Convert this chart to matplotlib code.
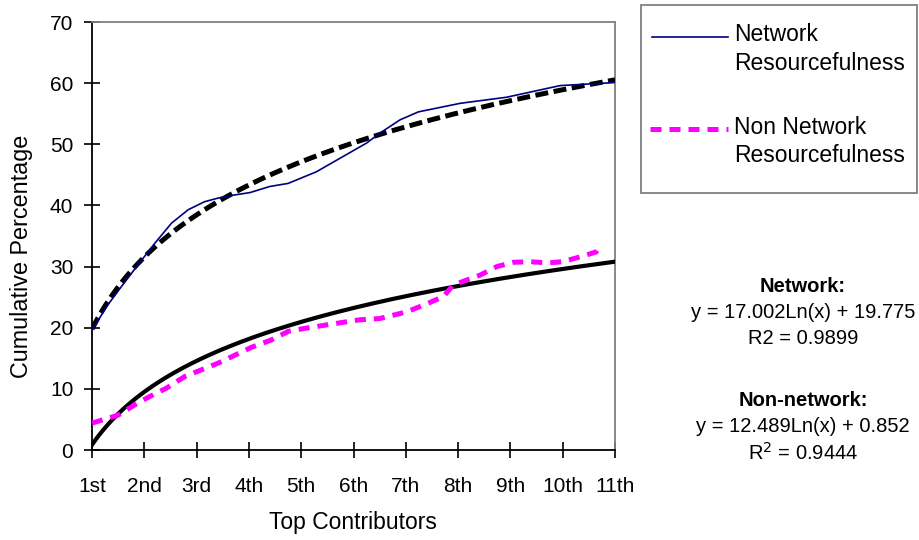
import numpy as np
import matplotlib
matplotlib.use("Agg")
import matplotlib.pyplot as plt
from matplotlib.lines import Line2D
from matplotlib.patches import Rectangle

plt.rcParams['font.family'] = ['Liberation Sans', 'DejaVu Sans']

# data (x = contributor rank, y = cumulative %)
net_x = [1.0, 1.3, 1.56, 1.88, 2.2, 2.52, 2.84, 3.15, 3.41, 3.64, 4.02, 4.4,
         4.75, 5.29, 5.8, 6.25, 6.5, 6.89, 7.24, 8.04, 8.93, 9.95, 11.0]
net_y = [19.6, 23.7, 26.7, 30.3, 33.8, 37.1, 39.3, 40.6, 41.2, 41.6, 42.1, 43.1,
         43.6, 45.5, 48.0, 50.2, 51.8, 54.0, 55.3, 56.7, 57.7, 59.6, 60.1]

non_x = [1.0, 1.5, 1.82, 2.07, 2.42, 2.77, 3.03, 3.41, 3.73, 4.05, 4.43, 4.75,
         5.07, 5.74, 6.12, 6.5, 7.02, 7.4, 7.72, 7.91, 8.42, 8.74, 9.06, 9.37,
         9.72, 10.0, 10.38, 10.64, 10.74]
non_y = [4.4, 5.7, 7.4, 8.6, 10.1, 12.0, 12.9, 14.2, 15.5, 16.8, 18.0, 19.4,
         19.9, 20.8, 21.3, 21.5, 22.6, 23.9, 25.1, 27.0, 28.6, 30.0, 30.7, 30.8,
         30.6, 30.8, 31.7, 32.4, 33.7]

# log trendlines as printed on the chart
net_fit = (17.002, 19.775)
non_fit = (12.489, 0.852)

tick_labels = ['1st', '2nd', '3rd', '4th', '5th', '6th', '7th', '8th', '9th', '10th', '11th']

W, H = 919, 540
fig = plt.figure(figsize=(W / 100, H / 100), dpi=100)
ax = fig.add_axes([92 / W, 1 - 450 / H, (615 - 92) / W, (450 - 22) / H])

tx = np.linspace(1, 11, 300)
ax.plot(tx, net_fit[0] * np.log(tx) + net_fit[1], color='black', lw=3.6,
        dashes=(2.6, 1.1), solid_capstyle='butt', zorder=3)
ax.plot(tx, non_fit[0] * np.log(tx) + non_fit[1], color='black', lw=3.0, zorder=3)
ax.plot(net_x, net_y, color='#000080', lw=1.2, zorder=4)
ax.plot(non_x, non_y, color='#ff00ff', lw=3.6, dashes=(2.2, 1.6), zorder=4)

ax.set_xlim(1, 11)
ax.set_ylim(0, 70)
ax.set_xticks(range(1, 12))
ax.set_xticklabels(tick_labels)
ax.set_yticks(range(0, 71, 10))
ax.tick_params(direction='inout', length=11, width=1.2, labelsize=15, colors='black')
ax.tick_params(axis='x', pad=14)
ax.tick_params(axis='y', pad=8)
for s in ['left', 'bottom']:
    ax.spines[s].set_color('black')
    ax.spines[s].set_linewidth(1.3)
for s in ['top', 'right']:
    ax.spines[s].set_color('#808080')
    ax.spines[s].set_linewidth(1.3)

fig.text(22 / W, 1 - 256 / H, 'Cumulative Percentage', rotation=90,
         ha='center', va='center', fontsize=16.8)
fig.text(353 / W, 1 - 523 / H, 'Top Contributors', ha='center', va='center', fontsize=16.5)

# overlay in pixel coordinates for legend and equations
ov = fig.add_axes([0, 0, 1, 1], facecolor='none')
ov.set_xlim(0, W)
ov.set_ylim(H, 0)
ov.axis('off')

ov.add_patch(Rectangle((641, 5), 276, 188, fill=False, edgecolor='#808080', lw=1.3))
ov.add_line(Line2D([652, 728], [36.5, 36.5], color='#000080', lw=1.2))
ov.add_line(Line2D([650, 728], [128.5, 128.5], color='#ff00ff', lw=3.6, dashes=(2.2, 1.6)))
legend_lines = [(34.5, 'Network'), (63, 'Resourcefulness'),
                (127, 'Non Network'), (155.5, 'Resourcefulness')]
for ly, txt in legend_lines:
    ov.text(734, ly, txt, fontsize=16.5, ha='left', va='center')

cx = 803
ov.text(cx, 287, 'Network:', fontsize=14.5, fontweight='bold', ha='center', va='center')
ov.text(cx, 312, 'y = 17.002Ln(x) + 19.775', fontsize=14.5, ha='center', va='center')
ov.text(cx, 338, 'R2 = 0.9899', fontsize=14.5, ha='center', va='center')
ov.text(cx, 401, 'Non-network:', fontsize=14.5, fontweight='bold', ha='center', va='center')
ov.text(cx, 427, 'y = 12.489Ln(x) + 0.852', fontsize=14.5, ha='center', va='center')
ov.text(cx, 453, r'R$^{2}$ = 0.9444', fontsize=14.5, ha='center', va='center')

fig.savefig('out.png', dpi=100)
